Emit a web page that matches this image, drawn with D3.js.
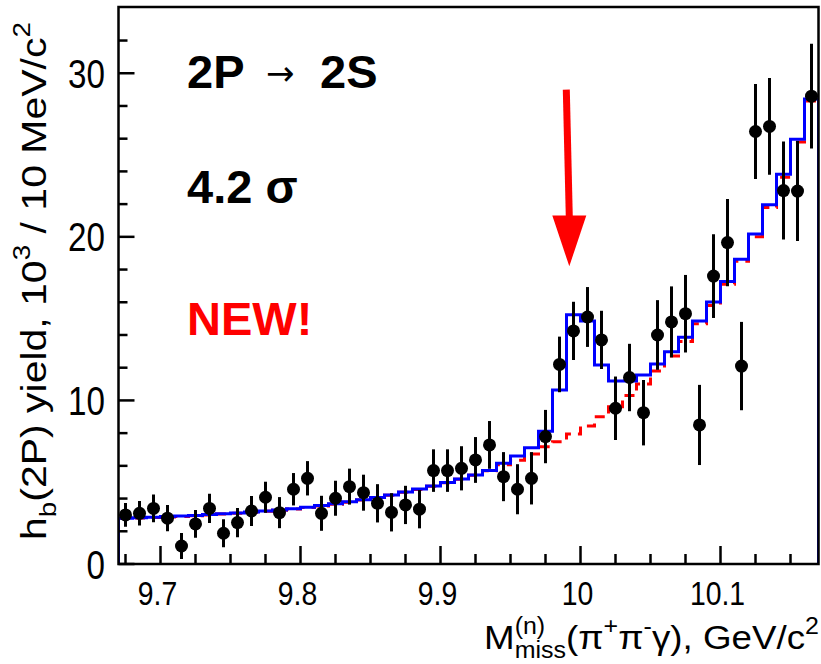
<!DOCTYPE html>
<html>
<head>
<meta charset="utf-8">
<script src="https://cdn.jsdelivr.net/npm/d3@7"></script>
<style>
  html, body { margin: 0; padding: 0; background: #fff; }
  svg { display: block; }
  text { font-family: "Liberation Sans", Arial, Helvetica, sans-serif; }
</style>
</head>
<body>
<svg id="chart" width="821" height="664"></svg>
<script>
// ---------- data ----------
const binCenters = [9.675, 9.685, 9.695, 9.705, 9.715, 9.725, 9.735, 9.745, 9.755, 9.765,
  9.775, 9.785, 9.795, 9.805, 9.815, 9.825, 9.835, 9.845, 9.855, 9.865,
  9.875, 9.885, 9.895, 9.905, 9.915, 9.925, 9.935, 9.945, 9.955, 9.965,
  9.975, 9.985, 9.995, 10.005, 10.015, 10.025, 10.035, 10.045, 10.055, 10.065,
  10.075, 10.085, 10.095, 10.105, 10.115, 10.125, 10.135, 10.145, 10.155, 10.165];

const dataYield = [3.0, 3.1, 3.4, 2.8, 1.1, 2.45, 3.4, 1.88, 2.53, 3.24,
  4.08, 3.14, 4.57, 5.24, 3.1, 4.02, 4.73, 4.36, 3.71, 3.16,
  3.61, 3.35, 5.71, 5.71, 5.85, 6.36, 7.28, 5.34, 4.57, 5.24,
  7.79, 12.2, 14.25, 15.1, 13.7, 9.52, 11.4, 9.25, 14.0, 14.8,
  15.3, 8.5, 17.6, 19.65, 12.1, 26.44, 26.75, 22.83, 22.8, 28.6];

const dataError = [0.73, 0.75, 0.85, 0.8, 0.8, 0.85, 0.9, 0.85, 0.9, 0.92,
  0.95, 0.95, 0.99, 1.05, 1.07, 1.07, 1.1, 1.1, 1.17, 1.17,
  1.17, 1.17, 1.3, 1.3, 1.35, 1.4, 1.46, 1.5, 1.53, 1.6,
  1.63, 1.7, 1.78, 1.83, 1.78, 1.94, 2.06, 2.0, 2.13, 2.17,
  2.37, 2.45, 2.56, 2.67, 2.7, 2.9, 2.96, 3.0, 3.06, 3.2];

const fitTotal = [2.80, 2.83, 2.86, 2.90, 2.93, 2.97, 3.02, 3.07, 3.12, 3.18,
  3.24, 3.30, 3.38, 3.47, 3.57, 3.68, 3.80, 3.93, 4.07, 4.22,
  4.40, 4.58, 4.77, 4.98, 5.20, 5.44, 5.72, 6.16, 6.60, 7.10,
  8.12, 10.64, 15.23, 14.86, 12.17, 11.19, 11.19, 11.56, 12.22, 12.98,
  13.86, 14.85, 16.02, 17.27, 18.63, 20.18, 21.96, 23.83, 25.97, 28.42];

const fitBackground = [2.78, 2.81, 2.84, 2.88, 2.91, 2.95, 3.00, 3.05, 3.10, 3.16,
  3.22, 3.28, 3.36, 3.45, 3.55, 3.66, 3.78, 3.91, 4.05, 4.20,
  4.38, 4.56, 4.75, 4.96, 5.18, 5.42, 5.70, 6.06, 6.35, 6.73,
  7.17, 7.48, 7.95, 8.44, 9.0, 9.62, 10.3, 11.0, 11.8, 12.72,
  13.6, 14.68, 15.8, 17.1, 18.5, 20.0, 21.8, 23.65, 25.8, 28.3];

const binWidth = 0.01;
const xDomain = [9.67, 10.17];
const yDomain = [0, 34.05];
const xTickValues = [9.7, 9.8, 9.9, 10.0, 10.1];
const xTickLabels = ["9.7", "9.8", "9.9", "10", "10.1"];
const yTickValues = [0, 10, 20, 30];
const yTickLabels = ["0", "10", "20", "30"];
const arrowMark = { x: 9.992, yTop: 29.0, yHeadBase: 21.3, yTip: 18.2 };

// ---------- layout ----------
const svg = d3.select("#chart");
const L = 118.5, R = 818.5, T = 7, B = 564;
const x = d3.scaleLinear().domain(xDomain).range([L, R]);
const y = d3.scaleLinear().domain(yDomain).range([B, T]);

svg.append("defs").append("clipPath").attr("id", "plotclip")
  .append("rect").attr("x", L).attr("y", T).attr("width", R - L).attr("height", B - T);

const plot = svg.append("g").attr("clip-path", "url(#plotclip)");

// step lines
function stepPoints(vals, closeEnds) {
  const pts = [];
  if (closeEnds) pts.push([xDomain[0], 0]);
  vals.forEach((v, i) => pts.push([binCenters[i] - binWidth / 2, v]));
  pts.push([binCenters[binCenters.length - 1] + binWidth / 2, vals[vals.length - 1]]);
  if (closeEnds) pts.push([binCenters[binCenters.length - 1] + binWidth / 2, 0]);
  return pts;
}
const stepLine = d3.line().x(d => x(d[0])).y(d => y(d[1])).curve(d3.curveStepAfter);

plot.append("path")
  .attr("d", stepLine(stepPoints(fitBackground, false)))
  .attr("fill", "none").attr("stroke", "#ff0000").attr("stroke-width", 3)
  .attr("stroke-dasharray", "10,7");

plot.append("path")
  .attr("d", stepLine(stepPoints(fitTotal, true)))
  .attr("fill", "none").attr("stroke", "#0000ff").attr("stroke-width", 3);

// data points
const pts = plot.append("g");
binCenters.forEach((c, i) => {
  pts.append("line")
    .attr("x1", x(c)).attr("x2", x(c))
    .attr("y1", y(dataYield[i] - dataError[i])).attr("y2", y(dataYield[i] + dataError[i]))
    .attr("stroke", "#000").attr("stroke-width", 3);
  pts.append("circle").attr("cx", x(c)).attr("cy", y(dataYield[i])).attr("r", 6.5).attr("fill", "#000");
});

// frame
svg.append("rect").attr("x", L).attr("y", T).attr("width", R - L).attr("height", B - T)
  .attr("fill", "none").attr("stroke", "#000").attr("stroke-width", 2.5);

// x ticks (inside, pointing up)
const xMinor = d3.range(0, 21).map(i => 9.675 + 0.025 * i).filter(v => v <= 10.17);
xMinor.forEach(v => {
  const major = xTickValues.some(t => Math.abs(t - v) < 1e-6);
  svg.append("line").attr("x1", x(v)).attr("x2", x(v)).attr("y1", B).attr("y2", B - (major ? 18 : 10))
    .attr("stroke", "#000").attr("stroke-width", 2.5);
});
xTickValues.forEach((v, i) => {
  svg.append("text")
    .attr("transform", `translate(${x(v) - 3},605) scale(0.86,1)`)
    .attr("text-anchor", "middle")
    .style("font-size", "33px").text(xTickLabels[i]);
});

// y ticks (inside, pointing right)
d3.range(0, 34, 2).forEach(v => {
  const major = v % 10 === 0;
  svg.append("line").attr("x1", L).attr("x2", L + (major ? 16 : 9)).attr("y1", y(v)).attr("y2", y(v))
    .attr("stroke", "#000").attr("stroke-width", 2.5);
});
yTickValues.forEach((v, i) => {
  svg.append("text")
    .attr("transform", `translate(105,${y(v) + 14.5}) scale(0.83,1)`)
    .attr("text-anchor", "end")
    .style("font-size", "40px").text(yTickLabels[i]);
});

// rich text helper
function rich(g, runs, size) {
  let cx = 0, prevStart = 0, prevW = 0;
  runs.forEach(r => {
    const fs = size * (r.s || 1);
    const el = g.append("text").attr("y", (r.dy || 0) * size).style("font-size", fs + "px")
      .attr("xml:space", "preserve").style("white-space", "pre").text(r.t);
    const w = el.node().getComputedTextLength();
    if (r.stack) {
      el.attr("x", prevStart);
      cx = prevStart + Math.max(prevW, w);
    } else {
      el.attr("x", cx);
      prevStart = cx; prevW = w;
      cx += w;
    }
  });
  return cx;
}

// x title
const xt = svg.append("g");
const xw = rich(xt, [
  { t: "M" },
  { t: "(n)", s: 0.68, dy: -0.45 },
  { t: "miss", s: 0.68, dy: 0.26, stack: true },
  { t: "(π" },
  { t: "+", s: 0.68, dy: -0.45 },
  { t: "π" },
  { t: "-", s: 0.68, dy: -0.45 },
  { t: "γ), GeV/c" },
  { t: "2", s: 0.68, dy: -0.45 }
], 34);
{
  const target = 819 - 484;
  xt.attr("transform", `translate(484,649) scale(${target / xw},1)`);
}

// y title
const yt = svg.append("g");
const yw = rich(yt, [
  { t: "h" },
  { t: "b", s: 0.68, dy: 0.28 },
  { t: "(2P) yield, 10" },
  { t: "3", s: 0.68, dy: -0.45 },
  { t: " / 10 MeV/c" },
  { t: "2", s: 0.68, dy: -0.45 }
], 35);
{
  const target = 540 - 22;
  yt.attr("transform", `translate(46,540) rotate(-90) scale(${target / yw},1)`);
}

// annotations
const bold = "font-weight:bold;font-size:47px;";
svg.append("text").attr("x", 187).attr("y", 88).attr("style", bold).text("2P");
svg.append("text").attr("x", 266).attr("y", 85)
  .style("font-family", "'DejaVu Sans', sans-serif").style("font-size", "34px").text("→");
svg.append("text").attr("x", 320).attr("y", 88).attr("style", bold).text("2S");
svg.append("text").attr("x", 187).attr("y", 203).attr("style", bold).text("4.2 σ");
svg.append("text").attr("x", 187).attr("y", 335).attr("style", bold).attr("fill", "#ff0000").text("NEW!");

// red arrow
const ax = x(arrowMark.x);
svg.append("line").attr("x1", ax - 3).attr("x2", ax).attr("y1", y(arrowMark.yTop)).attr("y2", y(arrowMark.yHeadBase) + 2)
  .attr("stroke", "#ff0000").attr("stroke-width", 7);
svg.append("path")
  .attr("d", `M${ax - 17},${y(arrowMark.yHeadBase)} L${ax + 17},${y(arrowMark.yHeadBase)} L${ax},${y(arrowMark.yTip)} Z`)
  .attr("fill", "#ff0000");
</script>
</body>
</html>
